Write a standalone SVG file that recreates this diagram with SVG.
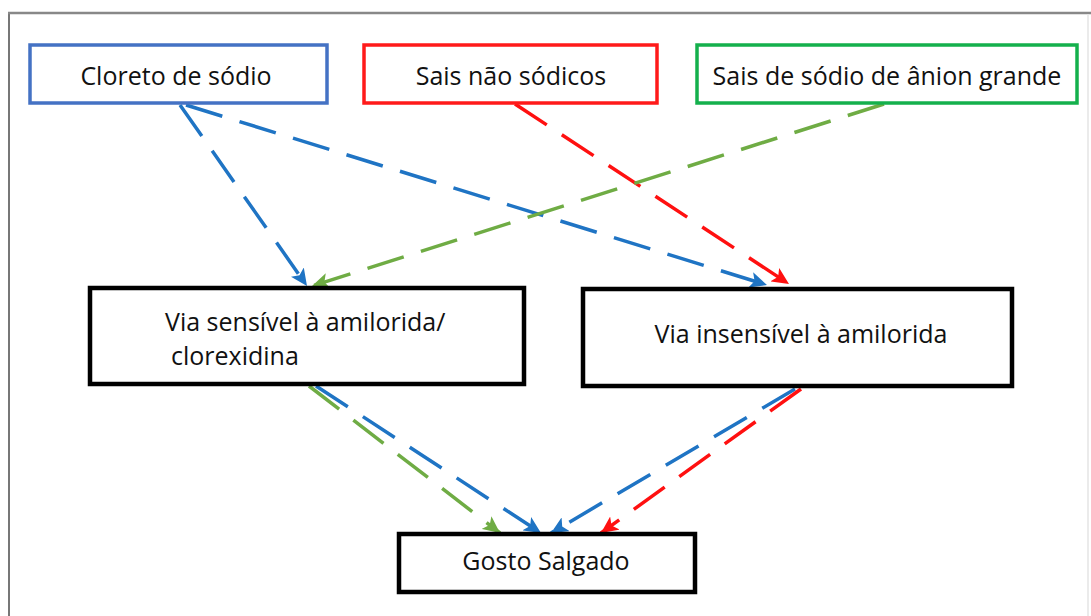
<svg xmlns="http://www.w3.org/2000/svg" width="1091" height="616" viewBox="0 0 1091 616">
<style>
.t{font-family:"Open Sans","Noto Sans","Liberation Sans",sans-serif;font-size:25px;fill:#111}
.box{fill:#fff}
.blk{stroke:#000;stroke-width:4.5}
.ln{fill:none;stroke-width:3.5;stroke-dasharray:38 18}
.b{stroke:#1f74c4}
.r{stroke:#ff1010}
.g{stroke:#6fac44}
</style>
<defs>
<marker id="ab" markerUnits="userSpaceOnUse" markerWidth="18" markerHeight="16" refX="17" refY="8" orient="auto"><path d="M0,0 L17,8 L0,16 L4,8 z" fill="#1f74c4"/></marker>
<marker id="ar" markerUnits="userSpaceOnUse" markerWidth="18" markerHeight="16" refX="17" refY="8" orient="auto"><path d="M0,0 L17,8 L0,16 L4,8 z" fill="#ff1010"/></marker>
<marker id="ag" markerUnits="userSpaceOnUse" markerWidth="18" markerHeight="16" refX="17" refY="8" orient="auto"><path d="M0,0 L17,8 L0,16 L4,8 z" fill="#6fac44"/></marker>
</defs>
<rect width="1091" height="616" fill="#fff"/>
<g id="frame">
<line x1="9" y1="12" x2="9" y2="616" stroke="#777" stroke-width="2"/>
<line x1="8" y1="13" x2="1091" y2="13" stroke="#888" stroke-width="2.5"/>
<line x1="1088" y1="14" x2="1088" y2="616" stroke="#e4e4e4" stroke-width="1.5"/>
</g>
<g id="connectors">
<line class="ln b" x1="180" y1="105" x2="307" y2="286" marker-end="url(#ab)"/>
<line class="ln b" x1="186" y1="105" x2="767" y2="285" marker-end="url(#ab)"/>
<line class="ln r" x1="515" y1="104" x2="789" y2="284" marker-end="url(#ar)"/>
<line class="ln g" x1="884" y1="104" x2="312" y2="286" marker-end="url(#ag)"/>
<line class="ln g" x1="309" y1="386" x2="500" y2="533" marker-end="url(#ag)"/>
<line class="ln b" x1="316" y1="386" x2="541" y2="533" marker-end="url(#ab)"/>
<line class="ln b" x1="795" y1="389" x2="551" y2="533" marker-end="url(#ab)"/>
<line class="ln r" x1="801" y1="389" x2="601" y2="533" marker-end="url(#ar)"/>
</g>
<g id="cloreto">
<rect class="box" x="30" y="45" width="297" height="58" stroke="#4472c4" stroke-width="3.5"/>
<text class="t" x="176" y="85" text-anchor="middle">Cloreto de sódio</text>
</g>
<g id="nao-sodicos">
<rect class="box" x="364" y="45" width="293" height="58" stroke="#ff1a1a" stroke-width="3.5"/>
<text class="t" x="511" y="85" text-anchor="middle">Sais não sódicos</text>
</g>
<g id="anion-grande">
<rect class="box" x="697" y="45" width="380" height="58" stroke="#14b04c" stroke-width="3.5"/>
<text class="t" x="887" y="85" text-anchor="middle">Sais de sódio de ânion grande</text>
</g>
<g id="via-sensivel">
<rect class="box blk" x="90" y="288" width="434" height="96"/>
<text class="t" x="165" y="331">Via sensível à amilorida/</text>
<text class="t" x="171" y="365">clorexidina</text>
</g>
<g id="via-insensivel">
<rect class="box blk" x="583" y="289" width="429" height="97"/>
<text class="t" x="801" y="343" text-anchor="middle">Via insensível à amilorida</text>
</g>
<g id="gosto">
<rect class="box blk" x="399" y="534" width="296" height="58"/>
<text class="t" x="546" y="570" text-anchor="middle">Gosto Salgado</text>
</g>
</svg>
